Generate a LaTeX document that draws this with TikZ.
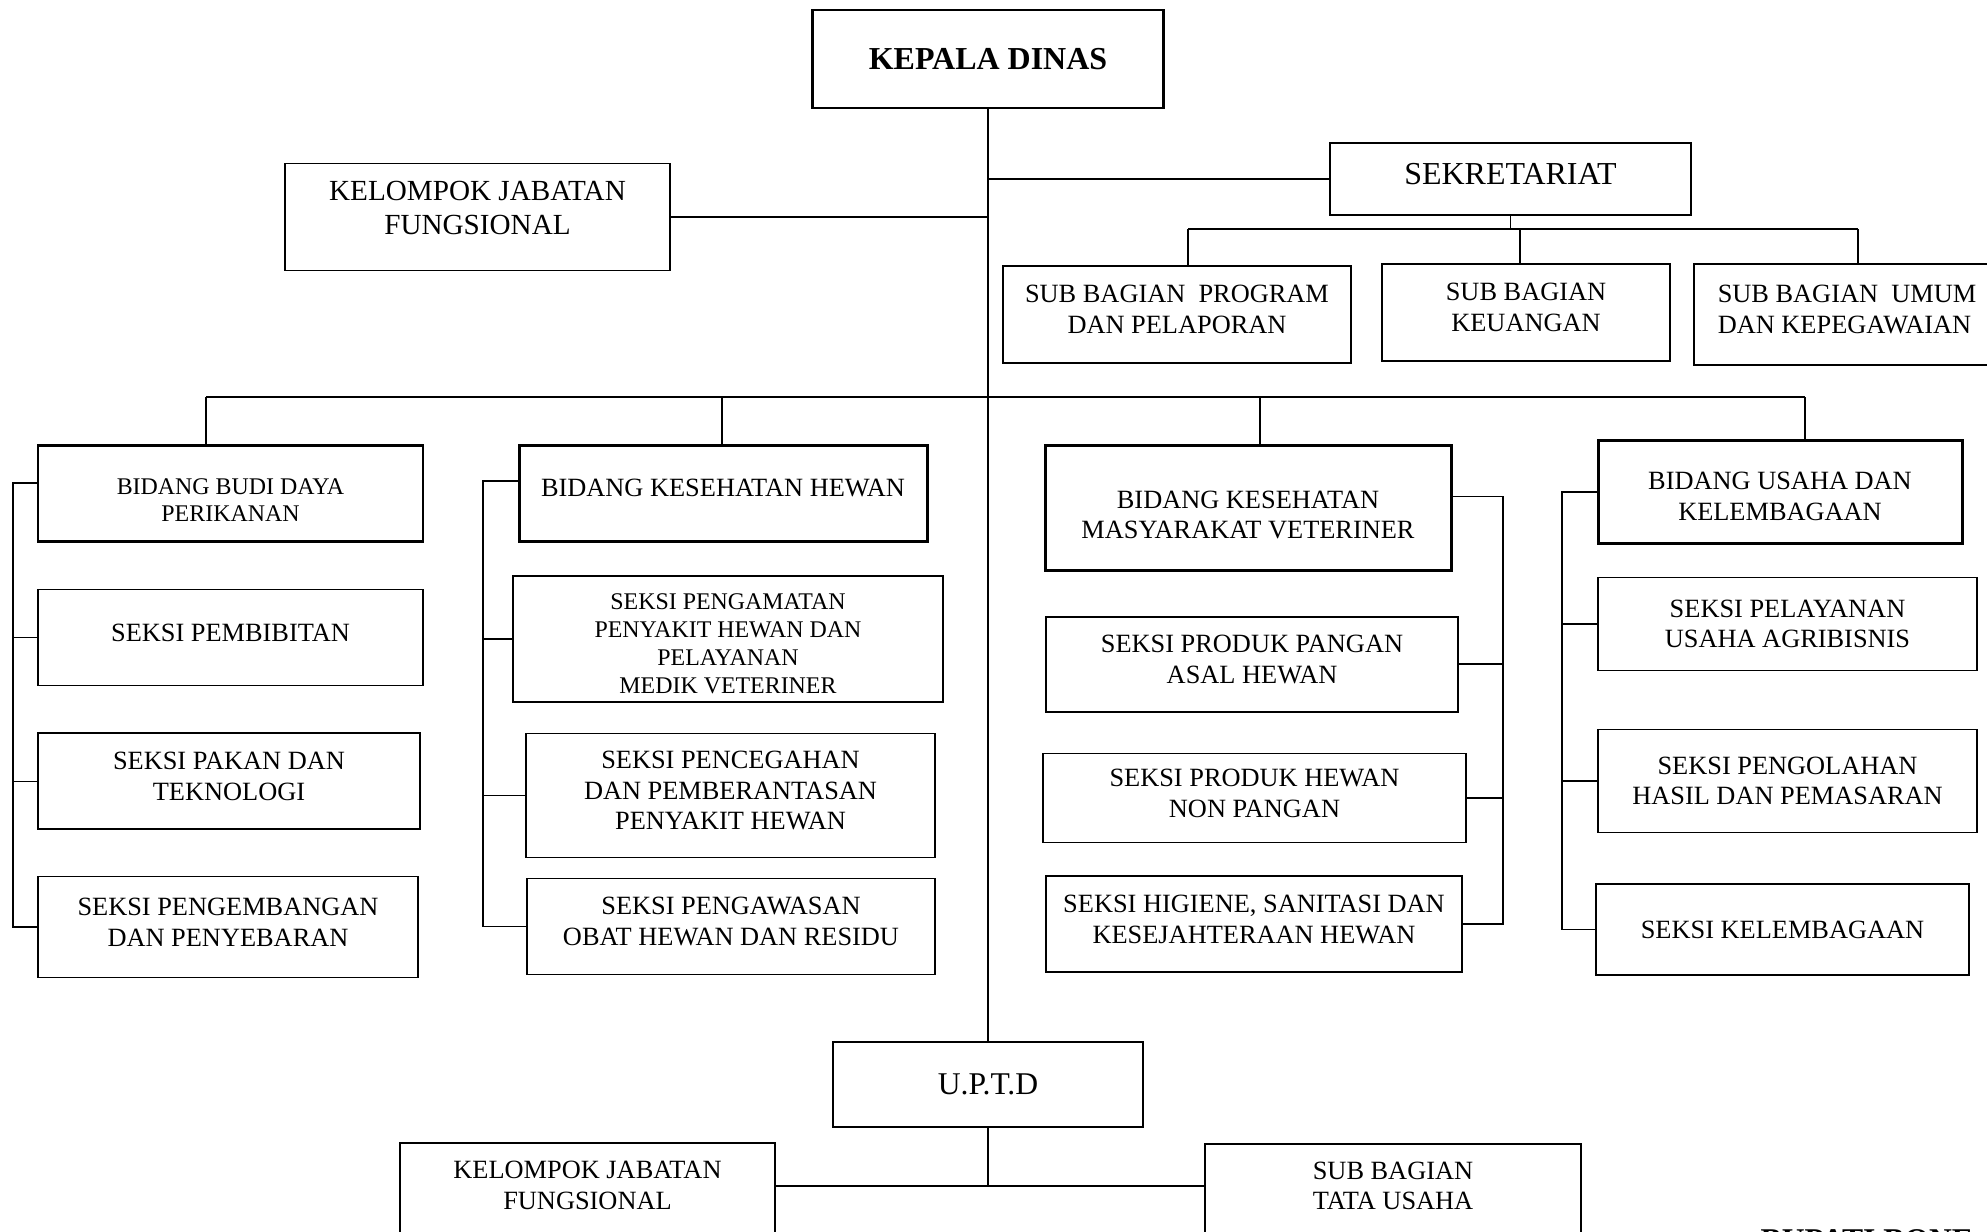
\documentclass[tikz,border=0pt]{standalone}
\usepackage{fontspec}
\setmainfont{Liberation Serif}
\usetikzlibrary{calc}

\newcommand\seksifont{\fontsize{7.5}{8.7}\selectfont}
\newcommand\kecilfont{\fontsize{6.8}{7.6}\selectfont}
\newcommand\sedangfont{\fontsize{8.3}{9.7}\selectfont}
\newcommand\judulfont{\fontsize{9.1}{11}\selectfont}
% geser teks sedikit ke atas
\newcommand\geser{\\[-5.85pt]\mbox{}}

\begin{document}
\begin{tikzpicture}[x=0.1mm, y=-0.1mm,
    kotak/.style={draw, line width=0.5pt, align=center, inner sep=1pt, font=\seksifont},
    tebal/.style={kotak, line width=0.85pt},
    garis/.style={line width=0.45pt}]
\useasboundingbox (0,0) rectangle (1987,1231);

% 上级
\node[tebal, minimum width=35.1mm, minimum height=9.8mm, font=\bfseries\judulfont] (kadis) at (988,59) {KEPALA DINAS};
\node[kotak, line width=0.75pt, minimum width=36.1mm, minimum height=7.2mm, text depth=2.8pt, font=\judulfont] (sekre) at (1510.5,179) {SEKRETARIAT};
\node[kotak, line width=0.55pt, minimum width=38.5mm, minimum height=10.7mm, font=\sedangfont] (kjf) at (477.5,217) {KELOMPOK JABATAN\\FUNGSIONAL\\[-4.7pt]\mbox{}};

% 秘书处下属
\node[kotak, minimum width=34.8mm, minimum height=9.7mm] (sbprog) at (1177,314.5) {SUB BAGIAN\ \ PROGRAM\\DAN PELAPORAN\geser};
\node[kotak, minimum width=28.8mm, minimum height=9.7mm] (sbkeu) at (1526,312.5) {SUB BAGIAN\\KEUANGAN\geser};
\node[kotak, align=left, minimum width=30.6mm, minimum height=10.1mm] (sbumum) at (1847,314.5) {SUB BAGIAN\ \ UMUM\\DAN KEPEGAWAIAN\geser};

% 各处
\node[tebal, minimum width=38.5mm, minimum height=9.6mm, font=\kecilfont] (bbd) at (230.5,493) {\mbox{}\\[0.9pt]BIDANG BUDI DAYA\\PERIKANAN};
\node[tebal, minimum width=40.8mm, minimum height=9.6mm, text depth=2.8pt] (bkh) at (723,493) {BIDANG KESEHATAN HEWAN};
\node[tebal, minimum width=40.6mm, minimum height=12.5mm] (bkmv) at (1248,507.5) {\mbox{}\\[0.6pt]BIDANG KESEHATAN\\MASYARAKAT VETERINER};
\node[tebal, minimum width=36.4mm, minimum height=10.3mm] (bush) at (1780,491.7) {\mbox{}\\[-1.2pt]BIDANG USAHA DAN\\KELEMBAGAAN};

% 科 1
\node[kotak, minimum width=38.5mm, minimum height=9.6mm, text depth=2.8pt] (s11) at (230.5,637.5) {SEKSI PEMBIBITAN};
\node[kotak, minimum width=38.2mm, minimum height=9.6mm] (s12) at (229,781.3) {SEKSI PAKAN DAN\\TEKNOLOGI\geser};
\node[kotak, minimum width=38.0mm, minimum height=10.1mm] (s13) at (228,927) {SEKSI PENGEMBANGAN\\DAN PENYEBARAN\geser};

% 科 2
\node[kotak, minimum width=43.0mm, minimum height=12.6mm, font=\fontsize{6.8}{8.0}\selectfont] (s21) at (728,639) {\mbox{}\\[-0.66pt]SEKSI PENGAMATAN\\PENYAKIT HEWAN DAN\\PELAYANAN\\MEDIK VETERINER};
\node[kotak, minimum width=40.9mm, minimum height=12.4mm] (s22) at (730.5,795.5) {SEKSI PENCEGAHAN\\DAN PEMBERANTASAN\\PENYAKIT HEWAN\geser};
\node[kotak, minimum width=40.8mm, minimum height=9.6mm] (s23) at (731,926.4) {SEKSI PENGAWASAN\\OBAT HEWAN DAN RESIDU\geser};

% 科 3
\node[kotak, minimum width=41.2mm, minimum height=9.5mm] (s31) at (1252,664.2) {SEKSI PRODUK PANGAN\\ASAL HEWAN\geser};
\node[kotak, minimum width=42.3mm, minimum height=8.9mm] (s32) at (1254.5,798) {SEKSI PRODUK HEWAN\\NON PANGAN\geser};
\node[kotak, minimum width=41.6mm, minimum height=9.6mm] (s33) at (1254,924.2) {SEKSI HIGIENE, SANITASI DAN\\KESEJAHTERAAN HEWAN\geser};

% 科 4
\node[kotak, minimum width=37.9mm, minimum height=9.3mm] (s41) at (1787.5,624) {SEKSI PELAYANAN\\USAHA AGRIBISNIS};
\node[kotak, minimum width=37.9mm, minimum height=10.3mm] (s42) at (1787.5,781) {SEKSI PENGOLAHAN\\HASIL DAN PEMASARAN};
\node[kotak, minimum width=37.3mm, minimum height=9.1mm] (s43) at (1782.5,929.5) {SEKSI KELEMBAGAAN};

% UPTD
\node[kotak, line width=0.6pt, minimum width=31.0mm, minimum height=8.5mm, font=\fontsize{9}{11}\selectfont] (uptd) at (988,1084.5) {U.P.T.D};
\node[kotak, minimum width=37.5mm, minimum height=9.7mm] (kjf2) at (587.5,1191.5) {KELOMPOK JABATAN\\FUNGSIONAL\\[-5.1pt]\mbox{}};
\node[kotak, minimum width=37.6mm, minimum height=9.6mm] (sbtu) at (1393,1192) {SUB BAGIAN\\TATA USAHA\\[-5.1pt]\mbox{}};

\node[anchor=north west, inner sep=0pt, font=\bfseries\fontsize{9}{11}\selectfont] (bupati) at (1760,1229) {BUPATI BONE};

% 连线
\coordinate (sbbus) at (0,229);
\coordinate (sb1) at (1188,229);
\coordinate (sb2) at (1520,229);
\coordinate (sb3) at (1858,229);
\coordinate (ubus) at (0,1186);
\coordinate (b1) at (206,397);
\coordinate (b2) at (722,397);
\coordinate (b3) at (1260,397);
\coordinate (b4) at (1805,397);
\coordinate (rail1) at (13,0);
\coordinate (rail2) at (483,0);
\coordinate (rail3) at (1503,0);
\coordinate (rail4) at (1562,0);
\coordinate (t1) at ($(bbd.west)+(0,-10)$);
\coordinate (t2) at ($(bkh.west)+(0,-12)$);
\coordinate (t3) at ($(bkmv.east)+(0,-11)$);

\draw[garis] (kadis.south) -- (uptd.north);
\draw[garis] (kadis.south |- sekre.west) -- (sekre.west);
\draw[garis] (kjf.east) -- (kadis.south |- kjf.east);

\draw[garis] (sekre.south) -- (sekre.south |- sbbus);
\draw[garis] (sb1) -- (sb3);
\draw[garis] (sb1) -- (sb1 |- sbprog.north);
\draw[garis] (sb2) -- (sb2 |- sbkeu.north);
\draw[garis] (sb3) -- (sb3 |- sbumum.north);

\draw[garis] (b1) -- (b4);
\draw[garis] (b1) -- (b1 |- bbd.north);
\draw[garis] (b2) -- (b2 |- bkh.north);
\draw[garis] (b3) -- (b3 |- bkmv.north);
\draw[garis] (b4) -- (b4 |- bush.north);

\draw[garis] (t1) -- (t1 -| rail1) -- (s13.west -| rail1) -- (s13.west);
\foreach \n in {s11, s12}
    \draw[garis] (\n.west) -- (\n.west -| rail1);

\draw[garis] (t2) -- (t2 -| rail2) -- (s23.west -| rail2) -- (s23.west);
\foreach \n in {s21, s22}
    \draw[garis] (\n.west) -- (\n.west -| rail2);

\draw[garis] (t3) -- (t3 -| rail3) -- (s33.east -| rail3) -- (s33.east);
\foreach \n in {s31, s32}
    \draw[garis] (\n.east) -- (\n.east -| rail3);

\draw[garis] (bush.west) -- (bush.west -| rail4) -- (s43.west -| rail4) -- (s43.west);
\foreach \n in {s41, s42}
    \draw[garis] (\n.west) -- (\n.west -| rail4);

\draw[garis] (uptd.south) -- (uptd.south |- ubus);
\draw[garis] (kjf2.east |- ubus) -- (sbtu.west |- ubus);
\end{tikzpicture}
\end{document}
